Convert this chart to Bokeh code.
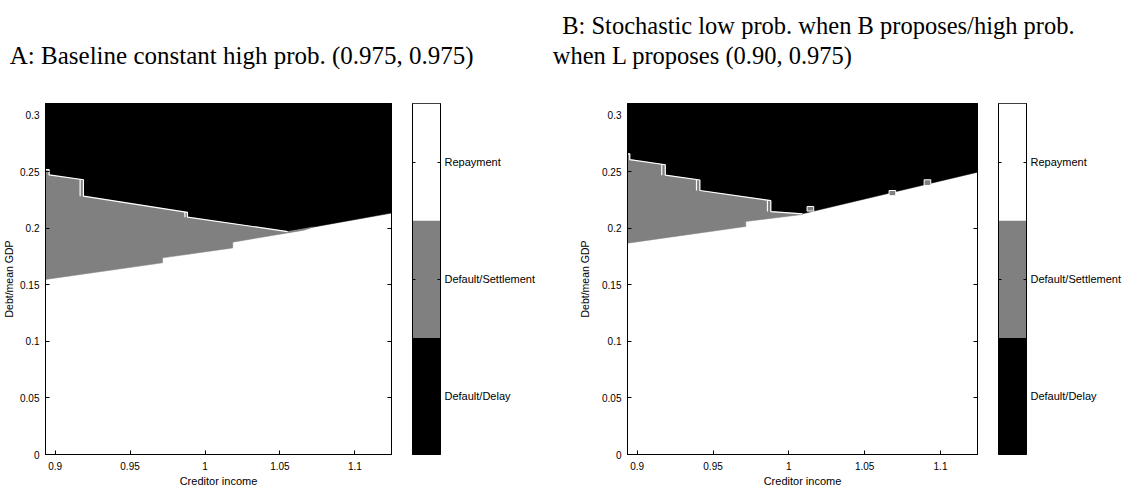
import numpy as np
from bokeh.plotting import figure
from bokeh.models import Range1d, Label, LinearAxis, FixedTicker
from bokeh.layouts import column, row
from bokeh.embed import file_html
from bokeh.resources import INLINE

# ---------------- data ----------------
X_RANGE = (0.8936, 1.1244)
Y_RANGE = (0.0, 0.3106)
x_ticks = [0.9, 0.95, 1.0, 1.05, 1.1]
x_tick_labels = ["0.9", "0.95", "1", "1.05", "1.1"]
y_ticks = [0.0, 0.05, 0.1, 0.15, 0.2, 0.25, 0.3]
y_tick_labels = ["0", "0.05", "0.1", "0.15", "0.2", "0.25", "0.3"]

region_names = ["Default/Delay", "Default/Settlement", "Repayment"]
region_colors = ["#000000", "#808080", "#ffffff"]

title_a = "A: Baseline constant high prob. (0.975, 0.975)"
title_b1 = "B: Stochastic low prob. when B proposes/high prob."
title_b2 = "when L proposes (0.90, 0.975)"
x_label = "Creditor income"
y_label = "Debt/mean GDP"

# Panel A boundaries
a_top_x = [0.8936, 0.8960, 0.8960, 0.9189, 0.9189, 0.9883, 0.9883, 1.0551]
a_top_y = [0.2520, 0.2520, 0.2474, 0.2431, 0.2286, 0.2142, 0.2100, 0.1973]
a_edge_x = [1.0551, 1.0727, 1.1244]
a_edge_y = [0.1973, 0.2014, 0.2136]
a_low_x = [0.8936, 0.9717, 0.9717, 1.0185, 1.0185, 1.0551, 1.0660, 1.0727]
a_low_y = [0.1549, 0.1696, 0.1740, 0.1828, 0.1879, 0.1961, 0.1985, 0.2014]
a_step_x = [0.9167, 0.9866]
a_step_top = [0.2435, 0.2145]
a_step_bot = [0.2286, 0.2100]

# Panel B boundaries
b_top_x = [0.8936, 0.8951, 0.8951, 0.9185, 0.9185, 0.9413, 0.9413, 0.9881, 0.9881, 1.0090]
b_top_y = [0.2661, 0.2661, 0.2609, 0.2564, 0.2472, 0.2429, 0.2336, 0.2246, 0.2150, 0.2130]
b_edge_x = [1.0090, 1.1244]
b_edge_y = [0.2130, 0.2498]
b_low_x = [0.8936, 0.9716, 0.9716, 1.0090]
b_low_y = [0.1870, 0.2018, 0.2062, 0.2124]
b_step_x = [0.9162, 0.9391, 0.9859]
b_step_top = [0.2568, 0.2433, 0.2250]
b_step_bot = [0.2472, 0.2336, 0.2150]
b_sq_left = [1.0120, 1.0661, 1.0892]
b_sq_right = [1.0164, 1.0705, 1.0936]
b_sq_bottom = [0.2154, 0.2290, 0.2381]
b_sq_top = [0.2195, 0.2336, 0.2431]

TICK_FONT = "Liberation Sans"
TITLE_FONT = "Liberation Serif"
TITLE_H = 70
ROW_H = 419


def style_axis(ax, ticks, labels, show_labels=True, standoff=6, tick_in=4):
    ax.ticker = FixedTicker(ticks=ticks)
    if show_labels:
        ax.major_label_overrides = {t: l for t, l in zip(ticks, labels)}
        ax.major_label_text_font = TICK_FONT
        ax.major_label_text_color = "black"
        ax.major_label_text_font_size = "10px"
    else:
        ax.major_label_overrides = {t: "" for t in ticks}
        ax.major_label_text_color = None
    ax.major_tick_in = tick_in
    ax.major_tick_out = 0
    ax.minor_tick_line_color = None
    ax.axis_line_color = "black"
    ax.major_tick_line_color = "black"
    ax.major_label_standoff = standoff


def main_panel(top_x, top_y, edge_x, edge_y, low_x, low_y, step_x, step_top, step_bot,
               left_border, width, ylab_standoff, squares=None):
    p = figure(width=width, height=ROW_H, x_range=Range1d(*X_RANGE), y_range=Range1d(*Y_RANGE),
               output_backend="svg", toolbar_location=None,
               min_border_left=left_border, min_border_right=10,
               min_border_top=33, min_border_bottom=ROW_H - 33 - 351)
    p.xgrid.visible = False
    p.ygrid.visible = False
    p.outline_line_color = "black"
    p.background_fill_color = region_colors[2]

    # black region (above the black floor)
    floor_x = top_x + edge_x[1:]
    floor_y = top_y + edge_y[1:]
    p.patch(floor_x + [X_RANGE[1], X_RANGE[0]], floor_y + [Y_RANGE[1], Y_RANGE[1]],
            fill_color=region_colors[0], line_color=region_colors[0], line_width=0.5)
    # gray region
    p.patch(top_x + low_x[::-1], top_y + low_y[::-1],
            fill_color=region_colors[1], line_color=region_colors[1], line_width=0.5)
    # white contour line on the gray/black boundary
    xs = [top_x] + [[sx, sx] for sx in step_x]
    ys = [top_y] + [[t, b] for t, b in zip(step_top, step_bot)]
    p.multi_line(xs, ys, line_color="white", line_width=1.2)
    if squares is not None:
        l, r, b, t = squares
        p.quad(left=l, right=r, bottom=b, top=t, fill_color=region_colors[1],
               line_color="white", line_width=1)

    xa = p.xaxis[0]
    style_axis(xa, x_ticks, x_tick_labels, True, 7)
    xa.axis_label = x_label
    xa.axis_label_standoff = 2
    xa.axis_label_text_font = TICK_FONT
    xa.axis_label_text_font_size = "11px"
    xa.axis_label_text_font_style = "normal"
    xa.axis_label_text_color = "black"

    ya = p.yaxis[0]
    style_axis(ya, y_ticks, y_tick_labels, True, 6)
    ya.axis_label = y_label
    ya.axis_label_standoff = ylab_standoff
    ya.axis_label_text_font = TICK_FONT
    ya.axis_label_text_font_size = "10.5px"
    ya.axis_label_text_font_style = "normal"
    ya.axis_label_text_color = "black"

    ax_top = LinearAxis()
    style_axis(ax_top, x_ticks, x_tick_labels, False, 0)
    p.add_layout(ax_top, "above")
    ax_right = LinearAxis()
    style_axis(ax_right, y_ticks, y_tick_labels, False, 0)
    p.add_layout(ax_right, "right")
    return p


def colorbar_panel(width):
    c = figure(width=width, height=ROW_H, x_range=Range1d(0, 1), y_range=Range1d(0, 3),
               x_axis_type=None, y_axis_type=None, output_backend="svg", toolbar_location=None,
               min_border_left=11, min_border_right=width - 39,
               min_border_top=33, min_border_bottom=ROW_H - 33 - 353)
    c.xgrid.visible = False
    c.ygrid.visible = False
    c.outline_line_color = "black"
    c.quad(left=0, right=1, bottom=[0, 1, 2], top=[1, 2, 3], fill_color=region_colors,
           line_color=None)
    cticks = [0.5, 1.5, 2.5]
    ax_r = LinearAxis()
    style_axis(ax_r, cticks, region_names, True, 4, 3)
    ax_r.major_label_text_font_size = "11px"
    c.add_layout(ax_r, "right")
    ax_l = LinearAxis()
    style_axis(ax_l, cticks, region_names, False, 0, 3)
    c.add_layout(ax_l, "left")
    return c


pA = main_panel(a_top_x, a_top_y, a_edge_x, a_edge_y, a_low_x, a_low_y,
                a_step_x, a_step_top, a_step_bot, 41, 401, 2)
cA = colorbar_panel(149)
pB = main_panel(b_top_x, b_top_y, b_edge_x, b_edge_y, b_low_x, b_low_y,
                b_step_x, b_step_top, b_step_bot, 77, 437, 8,
                squares=(b_sq_left, b_sq_right, b_sq_bottom, b_sq_top))
cB = colorbar_panel(140)

TW = 1127
tf = figure(width=TW, height=TITLE_H, x_range=Range1d(0, TW), y_range=Range1d(0, TITLE_H),
            x_axis_type=None, y_axis_type=None, output_backend="svg", toolbar_location=None,
            min_border=0, outline_line_color=None)
tf.xgrid.visible = False
tf.ygrid.visible = False
for txt, lx, ly, fs in [(title_a, 9.3, 15, "25px"), (title_b1, 561.7, 45, "24.5px"),
                        (title_b2, 552.3, 15, "24.5px")]:
    tf.add_layout(Label(x=lx, y=ly, text=txt, text_align="left", text_baseline="alphabetic",
                        text_font=TITLE_FONT, text_font_size=fs, text_color="black"))

layout = column(tf, row(pA, cA, pB, cB))
open("out.html", "w").write(file_html(layout, INLINE))
